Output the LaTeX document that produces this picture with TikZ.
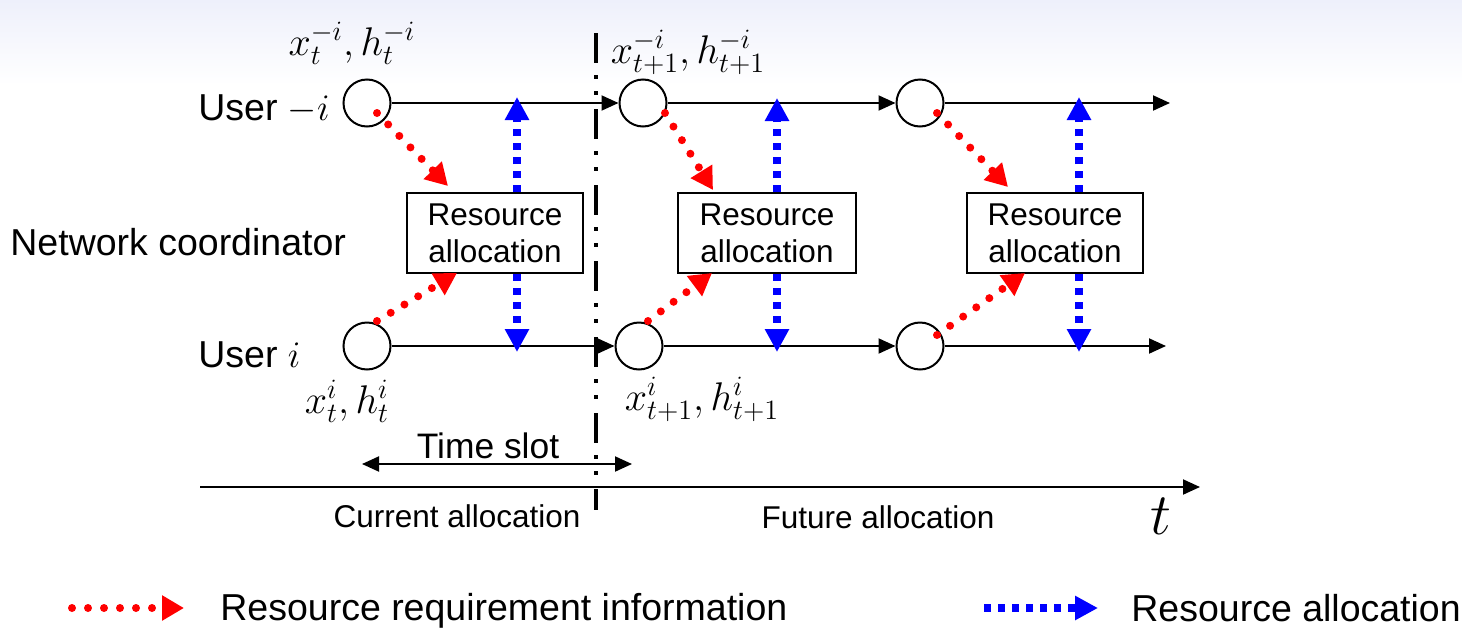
\RequirePackage{fix-cm}
\documentclass[tikz,border=0pt]{standalone}
\usepackage[no-math]{fontspec}
\setmainfont{Liberation Sans}
\usetikzlibrary{arrows.meta,calc}
\definecolor{topc}{RGB}{238,240,251}
\definecolor{redc}{RGB}{255,0,0}
\definecolor{bluec}{RGB}{0,0,255}
\begin{document}
\begin{tikzpicture}[x=0.5pt,y=-0.5pt,
  blk/.style={line width=1pt,-{Triangle[length=8.5pt,width=7.5pt]}},
  usr/.style={circle,draw,line width=1pt,minimum size=23.5pt,inner sep=0pt},
  rabox/.style={draw,line width=1pt,minimum width=88pt,minimum height=40pt,inner sep=0pt,align=center,font=\fontsize{15.75}{18.5}\selectfont},
  redarr/.style={draw=redc,line width=4pt,line cap=round,dash pattern=on 0pt off 8pt,-{Triangle[length=11pt,width=12pt,fill=redc,color=redc]}},
  bluearr/.style={draw=bluec,line width=4pt,dash pattern=on 3.5pt off 3.5pt,-{Triangle[length=11.5pt,width=11.5pt,color=bluec]}},
  big/.style={font=\fontsize{18.75}{22}\selectfont,inner sep=0pt},
  mid/.style={font=\fontsize{15.75}{18}\selectfont,inner sep=0pt},
  lab/.style={font=\fontsize{20}{24}\selectfont,inner sep=0pt},
]
\useasboundingbox (0,0) rectangle (1462,627);
\shade[top color=topc,bottom color=white] (0,0) rectangle (1462,85);

% user nodes
\node[usr] (a1) at (367,103) {};
\node[usr] (a2) at (643,103) {};
\node[usr] (a3) at (920,103) {};
\node[usr] (b1) at (367,346) {};
\node[usr] (b2) at (639,346) {};
\node[usr] (b3) at (920,346) {};
\coordinate (ea) at (1170,103);
\coordinate (eb) at (1166,346);

\draw[blk] (a1) -- (a2);
\draw[blk] (a2) -- (a3);
\draw[blk] (a3) -- (ea);
\draw[blk] (b1) -- (b2);
\draw[blk] (b2) -- (b3);
\draw[blk] (b3) -- (eb);

% boxes
\node[rabox] (r1) at (495,233) {Resource\\allocation};
\node[rabox,minimum width=89pt] (r2) at (767,233) {Resource\\allocation};
\node[rabox] (r3) at (1055,233) {Resource\\allocation};

% blue arrows
\coordinate (u1) at (517,97);
\coordinate (u2) at (777,98);
\coordinate (u3) at (1079,97);
\coordinate (d1) at (517,352);
\coordinate (d2) at (777,352);
\coordinate (d3) at (1079,352);
\draw[bluearr] (u1 |- r1.north) -- (u1);
\draw[bluearr] (u2 |- r2.north) -- (u2);
\draw[bluearr] (u3 |- r3.north) -- (u3);
\draw[bluearr] (d1 |- r1.south) -- (d1);
\draw[bluearr] (d2 |- r2.south) -- (d2);
\draw[bluearr] (d3 |- r3.south) -- (d3);

% red arrows
\coordinate (t1) at (448,186);
\coordinate (t2) at (713,190);
\coordinate (t3) at (1008,187);
\coordinate (s1) at (457,273);
\coordinate (s2) at (712,273);
\coordinate (s3) at (1025,273);
\draw[redarr] ($(a1.center)+(10,10)$) -- (t1);
\draw[redarr] ($(a2.center)+(22,10)$) -- (t2);
\draw[redarr] ($(a3.center)+(17,10)$) -- (t3);
\draw[redarr] ($(b1.center)+(10,-25)$) -- (s1);
\draw[redarr] ($(b2.center)+(9,-25)$) -- (s2);
\draw[redarr] ($(b3.center)+(17,-11)$) -- (s3);

% dash-dot divider
\coordinate (dtop) at (596,33);
\coordinate (dbot) at (596,510);
\draw[line width=2pt,dash pattern=on 15pt off 6pt on 2pt off 6pt on 2pt off 7pt] (dtop) -- (dbot);

% time axis and slot
\coordinate (ax0) at (200,487);
\coordinate (ax1) at (1200,487);
\draw[blk] (ax0) -- (ax1);
\coordinate (ts0) at (362,464);
\coordinate (ts1) at (632,464);
\draw[line width=1pt,{Triangle[length=8.5pt,width=7.5pt]}-{Triangle[length=8.5pt,width=7.5pt]}] (ts0) -- (ts1);

% labels
\node[big,anchor=base west] (ulab1) at (198,120) {User $-i$};
\node[big,anchor=base west] (ulab2) at (198,367) {User $i$};
\node[big,anchor=base west] (net) at (10,255) {Network coordinator};
\node[lab,anchor=base] (xa1) at (352,55) {$x_t^{-i},h_t^{-i}$};
\node[lab,anchor=base] (xa2) at (688,63) {$x_{t+1}^{-i},h_{t+1}^{-i}$};
\node[lab,anchor=base] (xb1) at (347,413) {$x_t^{i},h_t^{i}$};
\node[lab,anchor=base] (xb2) at (702,410) {$x_{t+1}^{i},h_{t+1}^{i}$};
\node[font=\fontsize{17.7}{20}\selectfont,inner sep=0pt,anchor=base] (tslab) at (488,458) {Time slot};
\node[mid,anchor=base] (cur) at (457,527) {Current allocation};
\node[mid,anchor=base] (fut) at (878,528) {Future allocation};
\node[font=\fontsize{29.5}{34}\selectfont,inner sep=0pt,anchor=base] (tt) at (1161,534) {$t$};

% legend
\coordinate (lr0) at (72,608);
\coordinate (lr1) at (184,608);
\draw[redarr] (lr0) -- (lr1);
\node[big,anchor=base west] (lgr) at (220,620) {Resource requirement information};
\coordinate (lb0) at (984,608);
\coordinate (lb1) at (1098,608);
\draw[bluearr] (lb0) -- (lb1);
\node[big,anchor=base west] (lgb) at (1131,621) {Resource allocation};
\end{tikzpicture}
\end{document}
